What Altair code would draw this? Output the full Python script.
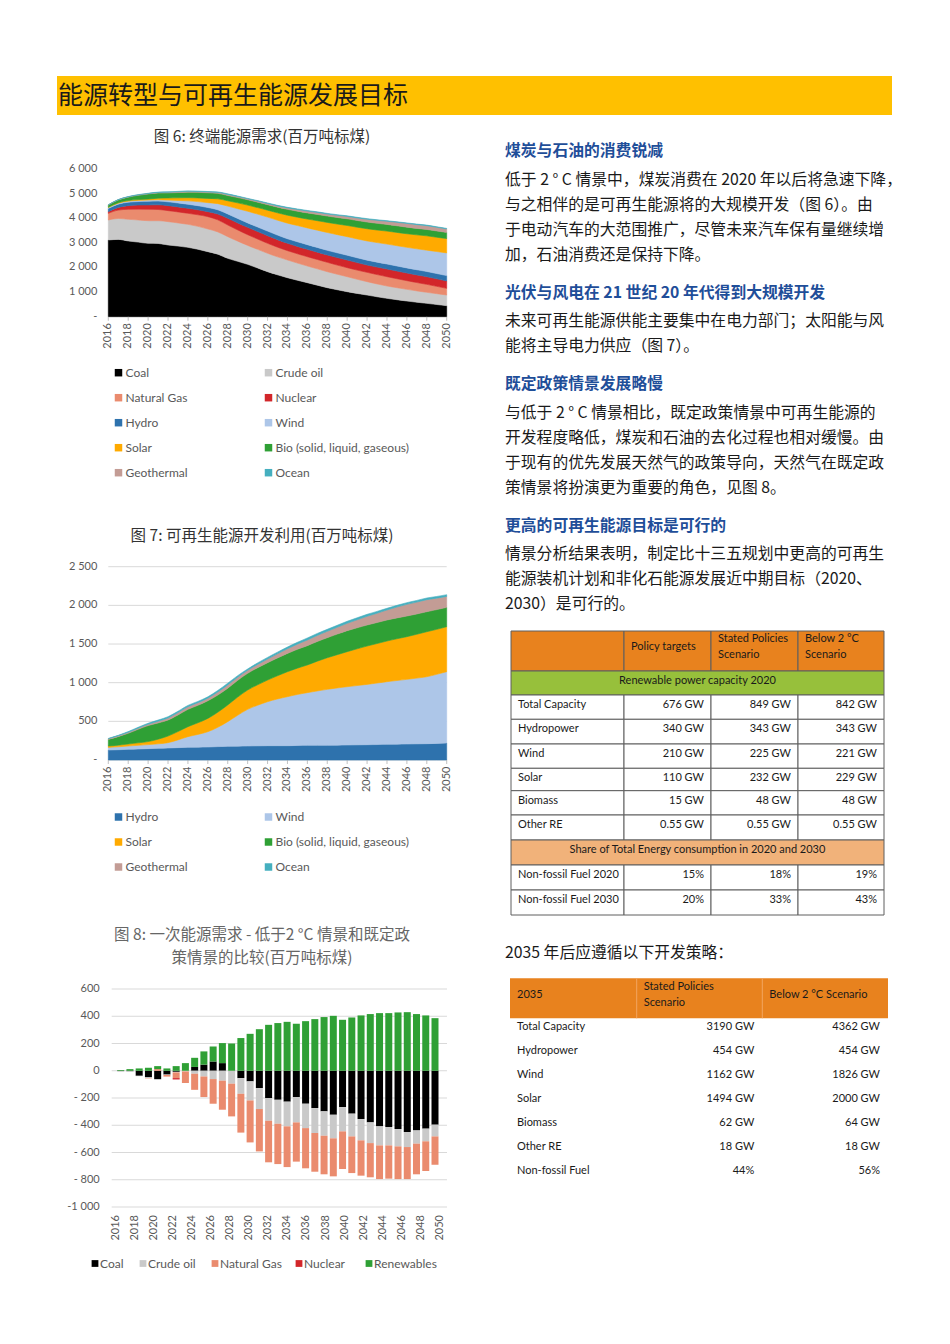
import altair as alt
import pandas as pd

# ------------------------------------------------------------------ data
years = list(range(2016, 2051))

# Figure 6 - final energy demand (Mtce), stacked
coal_f6 = [3117,3140,3076,3030,2981,2975,2913,2870,2818,2740,2642,2540,2371,2250,2127,1980,1829,1700,1585,1480,1382,1280,1179,1095,1016,945,880,810,745,690,637,588,542,495,447]
oil_f6 = [813,850,881,900,919,925,949,940,935,930,922,905,881,820,770,755,746,732,719,698,678,664,650,630,610,576,543,522,502,488,474,460,447,440,434]
gas_f6 = [270,340,406,440,463,455,447,447,447,470,501,490,474,455,434,420,406,392,379,379,379,380,380,372,366,372,379,379,379,365,352,338,325,298,271]
nuclear_f6 = [68,110,149,165,176,190,203,204,204,204,203,235,271,285,298,305,312,305,298,298,298,298,298,305,312,305,298,305,312,312,312,312,312,305,298]
# renewables (used in Figures 6 and 7)
hydro = [129,133,138,142,147,151,155,160,164,166,168,173,177,179,181,183,185,185,185,188,190,190,190,192,194,196,198,200,203,205,207,209,211,215,220]
wind = [34,38,43,48,52,58,69,100,138,165,198,250,319,400,474,525,569,605,634,660,681,703,724,740,754,767,780,795,810,823,836,850,866,893,922]
solar = [17,21,26,32,39,60,86,108,129,150,172,195,216,235,250,265,280,300,323,340,358,385,409,430,453,475,496,511,526,540,552,567,582,582,582]
bio = [86,110,138,175,207,210,207,215,224,226,228,222,216,216,216,220,224,230,237,244,250,255,259,266,272,272,272,272,272,270,267,263,259,255,250]
geothermal = [9,11,13,15,17,22,26,30,34,34,34,39,43,41,39,43,47,53,60,66,73,78,82,88,95,103,112,120,129,140,151,153,155,148,142]
ocean = [4,6,9,11,13,15,17,17,17,17,17,20,22,20,17,20,22,22,22,24,26,26,26,26,26,26,26,24,22,22,22,22,22,22,22]

fig6_series = ["Coal", "Crude oil", "Natural Gas", "Nuclear", "Hydro", "Wind", "Solar",
               "Bio (solid, liquid, gaseous)", "Geothermal", "Ocean"]
fig6_colors = ["#000000", "#C9C9C9", "#EA8B6E", "#D2262A", "#2E72AD", "#ADC6E8", "#FFAA00",
               "#2FA035", "#C39C95", "#45AFBF"]

# Figure 8 - primary energy demand difference (Mtce)
coal_f8 = [-2,-3,-37,-48,-62,-28,-8,0,28,45,68,56,0,-54,-78,-127,-200,-213,-227,-193,-242,-274,-298,-323,-267,-315,-355,-379,-408,-413,-428,-450,-438,-425,-396]
oil_f8 = [-5,-4,-3,-5,-5,-3,-4,-5,-22,-42,-61,-73,-95,-115,-140,-154,-167,-176,-181,-186,-179,-183,-179,-173,-178,-167,-156,-152,-140,-135,-127,-110,-97,-93,-86]
gas_f8 = [0,0,0,-3,12,-12,-42,-85,-118,-151,-181,-213,-240,-285,-308,-311,-305,-296,-299,-288,-295,-284,-283,-279,-276,-269,-259,-251,-247,-244,-240,-235,-225,-218,-208]
nuclear_f8 = [0,0,0,0,0,0,-10,0,0,0,0,0,0,0,0,0,0,0,0,0,0,0,0,0,0,0,0,0,0,0,0,0,0,0,0]
renew_f8 = [5,12,17,22,22,17,34,56,67,97,110,147,200,240,271,305,337,350,359,345,364,379,394,403,374,391,406,416,423,423,428,430,416,406,386]
fig8_series = ["Coal", "Crude oil", "Natural Gas", "Nuclear", "Renewables"]
fig8_colors = ["#000000", "#C9C9C9", "#EA8B6E", "#D2262A", "#2FA035"]

# axis ticks / labels
y6_ticks = [0, 1000, 2000, 3000, 4000, 5000, 6000]
y6_labels = ["-", "1 000", "2 000", "3 000", "4 000", "5 000", "6 000"]
y7_ticks = [0, 500, 1000, 1500, 2000, 2500]
y7_labels = ["-", "500", "1 000", "1 500", "2 000", "2 500"]
y8_ticks = [-1000, -800, -600, -400, -200, 0, 200, 400, 600]
y8_labels = ["-1 000", "- 800", "- 600", "- 400", "- 200", "0", "200", "400", "600"]
x_tick_years = [2016, 2018, 2020, 2022, 2024, 2026, 2028, 2030, 2032, 2034, 2036, 2038, 2040, 2042, 2044, 2046, 2048, 2050]
x_tick_labels = [str(y) for y in x_tick_years]

# texts
page_title = "能源转型与可再生能源发展目标"
fig6_title = "图 6: 终端能源需求(百万吨标煤)"
fig7_title = "图 7: 可再生能源开发利用(百万吨标煤)"
fig8_title = ["图 8: 一次能源需求 - 低于2 °C 情景和既定政", "策情景的比较(百万吨标煤)"]

sections = [
    ("煤炭与石油的消费锐减", [
        "低于 2 ° C 情景中，煤炭消费在 2020 年以后将急速下降，",
        "与之相伴的是可再生能源将的大规模开发（图 6）。由",
        "于电动汽车的大范围推广，尽管未来汽车保有量继续增",
        "加，石油消费还是保持下降。"]),
    ("光伏与风电在 21 世纪 20 年代得到大规模开发", [
        "未来可再生能源供能主要集中在电力部门；太阳能与风",
        "能将主导电力供应（图 7）。"]),
    ("既定政策情景发展略慢", [
        "与低于 2 ° C 情景相比，既定政策情景中可再生能源的",
        "开发程度略低，煤炭和石油的去化过程也相对缓慢。由",
        "于现有的优先发展天然气的政策导向，天然气在既定政",
        "策情景将扮演更为重要的角色，见图 8。"]),
    ("更高的可再生能源目标是可行的", [
        "情景分析结果表明，制定比十三五规划中更高的可再生",
        "能源装机计划和非化石能源发展近中期目标（2020、",
        "2030）是可行的。"]),
]
strategy_line = "2035 年后应遵循以下开发策略："

# table 1
t1_header = ["", "Policy targets", "Stated Policies\nScenario", "Below 2 °C\nScenario"]
t1_section1 = "Renewable power capacity 2020"
t1_rows = ["Total Capacity", "Hydropower", "Wind", "Solar", "Biomass", "Other RE"]
t1_policy = ["676 GW", "340 GW", "210 GW", "110 GW", "15 GW", "0.55 GW"]
t1_stated = ["849 GW", "343 GW", "225 GW", "232 GW", "48 GW", "0.55 GW"]
t1_below = ["842 GW", "343 GW", "221 GW", "229 GW", "48 GW", "0.55 GW"]
t1_section2 = "Share of Total Energy consumption in 2020 and 2030"
t1_rows2 = ["Non-fossil Fuel 2020", "Non-fossil Fuel 2030"]
t1_policy2 = ["15%", "20%"]
t1_stated2 = ["18%", "33%"]
t1_below2 = ["19%", "43%"]

# table 2
t2_header = ["2035", "Stated Policies\nScenario", "Below 2 °C Scenario"]
t2_rows = ["Total Capacity", "Hydropower", "Wind", "Solar", "Biomass", "Other RE", "Non-fossil Fuel"]
t2_stated = ["3190 GW", "454 GW", "1162 GW", "1494 GW", "62 GW", "18 GW", "44%"]
t2_below = ["4362 GW", "454 GW", "1826 GW", "2000 GW", "64 GW", "18 GW", "56%"]

# ------------------------------------------------------------------ styling helpers
CJK = "Noto Sans CJK SC"
LAT = "Lato, 'Noto Sans CJK SC'"
AXC = "#595959"
ORANGE = "#E8821E"
GREEN = "#97C03B"
LORANGE = "#F1B27A"
TXT = "#1a1a1a"


def P(v):
    """page pixel -> chart pixel (8px page margin, chart padding 0)"""
    return v - 8


def one():
    return pd.DataFrame({"k": [0]})


def long_df(names, series):
    rows = []
    for i, (n, vals) in enumerate(zip(names, series)):
        for yr, v in zip(years, vals):
            rows.append({"year": yr, "series": n, "value": v, "idx": i})
    return pd.DataFrame(rows)


def lin(domain, rng):
    return alt.Scale(domain=domain, range=rng, nice=False, zero=False)


layers = []

# ------------------------------------------------------------------ page header
layers.append(alt.Chart(one()).mark_rect(color="#FFC000").encode(
    x=alt.value(P(57)), x2=alt.value(P(892)), y=alt.value(P(76)), y2=alt.value(P(115))))
layers.append(alt.Chart(one()).mark_text(
    text=page_title, font=CJK, fontSize=25, align="left", baseline="middle", color="#1a1a1a"
).encode(x=alt.value(P(58)), y=alt.value(P(96))))


def y_labels(ticks, labels, xs, ys, x0, xoff):
    df = pd.DataFrame({"v": ticks, "lab": labels})
    return alt.Chart(df).mark_text(
        align="right", baseline="middle", font=LAT, fontSize=11, color=AXC, xOffset=xoff
    ).encode(
        x=alt.XDatum(x0, type="quantitative", scale=xs, axis=None),
        y=alt.Y("v:Q", scale=ys, axis=None),
        text="lab:N")


def x_labels(xs, ys, y0, yoff):
    df = pd.DataFrame({"yr": x_tick_years, "lab": x_tick_labels})
    return alt.Chart(df).mark_text(
        angle=270, align="right", baseline="middle", font=LAT, fontSize=11, color=AXC, yOffset=yoff
    ).encode(
        x=alt.X("yr:Q", scale=xs, axis=None),
        y=alt.YDatum(y0, type="quantitative", scale=ys, axis=None),
        text="lab:N")


def x_ticks(xs, ys):
    df = pd.DataFrame({"yr": x_tick_years})
    return alt.Chart(df).mark_tick(orient="vertical", size=4, thickness=1, color="#A6A6A6", yOffset=2).encode(
        x=alt.X("yr:Q", scale=xs, axis=None),
        y=alt.YDatum(0, type="quantitative", scale=ys, axis=None))


def title_text(lines, ypos, color):
    out = []
    for line, yv in zip(lines, ypos):
        out.append(alt.Chart(one()).mark_text(
            text=line, font=CJK, fontSize=15.5, align="center", baseline="middle", color=color
        ).encode(x=alt.value(P(262)), y=alt.value(P(yv))))
    return out


def grid_legend(names, colors, xcols, yrows):
    df = pd.DataFrame({
        "name": names, "col": colors,
        "c": [i % 2 for i in range(len(names))],
        "r": [i // 2 for i in range(len(names))],
    })
    xs = lin([0, 1], [P(v) for v in xcols])
    ys = lin([0, len(yrows) - 1], [P(yrows[0]), P(yrows[-1])])
    sq = alt.Chart(df).mark_square(size=56, opacity=1).encode(
        x=alt.X("c:Q", scale=xs, axis=None), y=alt.Y("r:Q", scale=ys, axis=None),
        color=alt.Color("col:N", scale=None, legend=None))
    tx = alt.Chart(df).mark_text(align="left", baseline="middle", font=LAT, fontSize=12,
                                 color=AXC, dx=7).encode(
        x=alt.X("c:Q", scale=xs, axis=None), y=alt.Y("r:Q", scale=ys, axis=None), text="name:N")
    return [sq, tx]


# ------------------------------------------------------------------ Figure 6
xs6 = lin([2016, 2050], [P(108.3), P(446.7)])
ys6 = lin([0, 6000], [P(316.7), P(169)])
c6 = alt.Scale(domain=fig6_series, range=fig6_colors)
df6 = long_df(fig6_series, [coal_f6, oil_f6, gas_f6, nuclear_f6, hydro, wind, solar, bio, geothermal, ocean])

layers += title_text([fig6_title], [137], "#333333")
layers.append(alt.Chart(df6).mark_area(interpolate="monotone", opacity=1, strokeWidth=0.6).encode(
    x=alt.X("year:Q", scale=xs6, axis=None),
    y=alt.Y("value:Q", stack="zero", scale=ys6, axis=None),
    color=alt.Color("series:N", scale=c6, legend=None),
    stroke=alt.Stroke("series:N", scale=c6, legend=None),
    order=alt.Order("idx:Q")))
layers.append(x_ticks(xs6, ys6))
layers.append(y_labels(y6_ticks, y6_labels, xs6, ys6, 2016, -11))
layers.append(x_labels(xs6, ys6, 0, 6.5))
layers += grid_legend(fig6_series, fig6_colors, [118.5, 268.5], [372.7, 397.7, 422.7, 447.7, 472.7])

# ------------------------------------------------------------------ Figure 7
xs7 = lin([2016, 2050], [P(108.3), P(446.7)])
ys7 = lin([0, 2500], [P(760), P(566.7)])
fig7_series = fig6_series[4:]
fig7_colors = fig6_colors[4:]
c7 = alt.Scale(domain=fig7_series, range=fig7_colors)
df7 = long_df(fig7_series, [hydro, wind, solar, bio, geothermal, ocean])

layers += title_text([fig7_title], [536], "#333333")
layers.append(alt.Chart(pd.DataFrame({"v": y7_ticks})).mark_rule(color="#D9D9D9", strokeWidth=1).encode(
    x=alt.XDatum(2016, type="quantitative", scale=xs7, axis=None),
    x2=alt.X2Datum(2050),
    y=alt.Y("v:Q", scale=ys7, axis=None)))
layers.append(alt.Chart(df7).mark_area(interpolate="monotone", opacity=1, strokeWidth=0.6).encode(
    x=alt.X("year:Q", scale=xs7, axis=None),
    y=alt.Y("value:Q", stack="zero", scale=ys7, axis=None),
    color=alt.Color("series:N", scale=c7, legend=None),
    stroke=alt.Stroke("series:N", scale=c7, legend=None),
    order=alt.Order("idx:Q")))
layers.append(x_ticks(xs7, ys7))
layers.append(y_labels(y7_ticks, y7_labels, xs7, ys7, 2016, -11))
layers.append(x_labels(xs7, ys7, 0, 6.5))
layers += grid_legend(fig7_series, fig7_colors, [118.5, 268.5], [817, 842, 867])

# ------------------------------------------------------------------ Figure 8
xs8 = lin([2016, 2050], [P(115.7), P(440)])
ys8 = lin([-1000, 600], [P(1207), P(989)])
c8 = alt.Scale(domain=fig8_series, range=fig8_colors)
df8 = long_df(fig8_series, [coal_f8, oil_f8, gas_f8, nuclear_f8, renew_f8])

layers += title_text(fig8_title, [935, 958], "#666666")
layers.append(alt.Chart(pd.DataFrame({"v": y8_ticks})).mark_rule(
    color="#D9D9D9", strokeWidth=1, xOffset=-4, x2Offset=7).encode(
    x=alt.XDatum(2016, type="quantitative", scale=xs8, axis=None),
    x2=alt.X2Datum(2050),
    y=alt.Y("v:Q", scale=ys8, axis=None)))
layers.append(alt.Chart(df8).mark_bar(size=7, opacity=1).encode(
    x=alt.X("year:Q", scale=xs8, axis=None),
    y=alt.Y("value:Q", stack="zero", scale=ys8, axis=None),
    color=alt.Color("series:N", scale=c8, legend=None),
    order=alt.Order("idx:Q")))
layers.append(y_labels(y8_ticks, y8_labels, xs8, ys8, 2016, -16))
layers.append(x_labels(xs8, ys8, -1000, 8))

leg8 = pd.DataFrame({"name": fig8_series, "col": fig8_colors, "i": list(range(len(fig8_series)))})
lx8 = lin([0, 1, 2, 3, 4], [P(95), P(143), P(215), P(299), P(369)])
layers.append(alt.Chart(leg8).mark_square(size=46, opacity=1).encode(
    x=alt.X("i:Q", scale=lx8, axis=None), y=alt.value(P(1263.5)),
    color=alt.Color("col:N", scale=None, legend=None)))
layers.append(alt.Chart(leg8).mark_text(align="left", baseline="middle", font=LAT, fontSize=12,
                                        color=AXC, dx=5).encode(
    x=alt.X("i:Q", scale=lx8, axis=None), y=alt.value(P(1263.5)), text="name:N"))

# ------------------------------------------------------------------ right column text
trows = []
ycur = 151.0
for head, lines in sections:
    trows.append({"t": head, "y": P(ycur), "h": 1})
    ycur += 28.5
    for ln in lines:
        trows.append({"t": ln, "y": P(ycur), "h": 0})
        ycur += 25
    ycur += 13
trows.append({"t": strategy_line, "y": P(953), "h": 0})
tdf = pd.DataFrame(trows)
layers.append(alt.Chart(tdf[tdf.h == 1]).mark_text(
    font=CJK, fontSize=15.8, fontWeight="bold", align="left", baseline="middle", color="#1F4E99"
).encode(x=alt.value(P(505)), y=alt.Y("y:Q", scale=None, axis=None), text="t:N"))
layers.append(alt.Chart(tdf[tdf.h == 0]).mark_text(
    font=CJK, fontSize=15.8, align="left", baseline="middle", color="#1a1a1a"
).encode(x=alt.value(P(505)), y=alt.Y("y:Q", scale=None, axis=None), text="t:N"))

# ------------------------------------------------------------------ table 1
t1x = lin([0, 1, 2, 3, 4], [P(511), P(624), P(711), P(798), P(884)])
t1y = lin(list(range(12)), [P(v) for v in [631, 671, 695, 719.3, 744, 768.3, 790.7, 815, 840, 865, 890, 915]])
cells = []
for c in range(4):
    cells.append({"c0": c, "c1": c + 1, "r0": 0, "r1": 1, "fill": ORANGE})
cells.append({"c0": 0, "c1": 4, "r0": 1, "r1": 2, "fill": GREEN})
for r in range(2, 8):
    for c in range(4):
        cells.append({"c0": c, "c1": c + 1, "r0": r, "r1": r + 1, "fill": "#FFFFFF"})
cells.append({"c0": 0, "c1": 4, "r0": 8, "r1": 9, "fill": LORANGE})
for r in range(9, 11):
    for c in range(4):
        cells.append({"c0": c, "c1": c + 1, "r0": r, "r1": r + 1, "fill": "#FFFFFF"})
layers.append(alt.Chart(pd.DataFrame(cells)).mark_rect(stroke="#5E5E5E", strokeWidth=1).encode(
    x=alt.X("c0:Q", scale=t1x, axis=None), x2="c1:Q",
    y=alt.Y("r0:Q", scale=t1y, axis=None), y2="r1:Q",
    fill=alt.Fill("fill:N", scale=None, legend=None)))

# header texts: one-line header centred in cell, two-line header block centred
hdr1 = pd.DataFrame({"c": [1], "t": [t1_header[1]]})
hdr2 = pd.DataFrame({"c": [2, 3], "t": [t1_header[2], t1_header[3]]})
layers.append(alt.Chart(hdr1).mark_text(align="left", baseline="middle", font=LAT, fontSize=11,
                                        color=TXT, xOffset=7, yOffset=16).encode(
    x=alt.X("c:Q", scale=t1x, axis=None), y=alt.YDatum(0, type="quantitative", scale=t1y, axis=None),
    text="t:N"))
layers.append(alt.Chart(hdr2).mark_text(align="left", baseline="middle", font=LAT, fontSize=11,
                                        color=TXT, xOffset=7, yOffset=8, lineBreak="\n", lineHeight=16).encode(
    x=alt.X("c:Q", scale=t1x, axis=None), y=alt.YDatum(0, type="quantitative", scale=t1y, axis=None),
    text="t:N"))

body_rows = list(range(2, 8)) + [9, 10]
all_labels = t1_rows + t1_rows2
all_vals = [t1_policy + t1_policy2, t1_stated + t1_stated2, t1_below + t1_below2]
lab1 = pd.DataFrame({"r": body_rows, "t": all_labels})
right1 = []
for k, r in enumerate(body_rows):
    for j in range(3):
        right1.append({"c": j + 2, "r": r, "t": all_vals[j][k]})
r1df = pd.DataFrame(right1)
layers.append(alt.Chart(lab1).mark_text(align="left", baseline="middle", font=LAT, fontSize=11,
                                        color=TXT, xOffset=7, yOffset=10).encode(
    x=alt.XDatum(0, type="quantitative", scale=t1x, axis=None),
    y=alt.Y("r:Q", scale=t1y, axis=None), text="t:N"))
layers.append(alt.Chart(r1df).mark_text(align="right", baseline="middle", font=LAT, fontSize=11,
                                        color=TXT, xOffset=-7, yOffset=10).encode(
    x=alt.X("c:Q", scale=t1x, axis=None), y=alt.Y("r:Q", scale=t1y, axis=None), text="t:N"))
sec1 = pd.DataFrame({"r": [1, 8], "t": [t1_section1, t1_section2]})
layers.append(alt.Chart(sec1).mark_text(align="center", baseline="middle", font=LAT, fontSize=11,
                                        color=TXT, yOffset=10).encode(
    x=alt.value(P(697.5)), y=alt.Y("r:Q", scale=t1y, axis=None), text="t:N"))

# ------------------------------------------------------------------ table 2
t2x = lin([0, 1, 2, 3], [P(510), P(636.7), P(762.3), P(888)])
t2y = lin([0, 6], [P(1026.7), P(1170.7)])
layers.append(alt.Chart(one()).mark_rect(color=ORANGE).encode(
    x=alt.XDatum(0, type="quantitative", scale=t2x, axis=None), x2=alt.X2Datum(3),
    y=alt.value(P(978.3)), y2=alt.value(P(1018.3))))
layers.append(alt.Chart(pd.DataFrame({"c": [1, 2]})).mark_rule(color="#F2A560", strokeWidth=1).encode(
    x=alt.X("c:Q", scale=t2x, axis=None), y=alt.value(P(978.3)), y2=alt.value(P(1018.3))))
h2a = pd.DataFrame({"c": [0, 2], "t": [t2_header[0], t2_header[2]]})
h2b = pd.DataFrame({"c": [1], "t": [t2_header[1]]})
layers.append(alt.Chart(h2a).mark_text(align="left", baseline="middle", font=LAT, fontSize=11,
                                       color=TXT, xOffset=7).encode(
    x=alt.X("c:Q", scale=t2x, axis=None), y=alt.value(P(995)), text="t:N"))
layers.append(alt.Chart(h2b).mark_text(align="left", baseline="middle", font=LAT, fontSize=11,
                                       color=TXT, xOffset=7, lineBreak="\n", lineHeight=16).encode(
    x=alt.X("c:Q", scale=t2x, axis=None), y=alt.value(P(987)), text="t:N"))
b2 = pd.DataFrame({"r": list(range(len(t2_rows))), "lab": t2_rows, "s": t2_stated, "b": t2_below})
layers.append(alt.Chart(b2).mark_text(align="left", baseline="middle", font=LAT, fontSize=11,
                                      color=TXT, xOffset=7).encode(
    x=alt.XDatum(0, type="quantitative", scale=t2x, axis=None),
    y=alt.Y("r:Q", scale=t2y, axis=None), text="lab:N"))
layers.append(alt.Chart(b2).mark_text(align="right", baseline="middle", font=LAT, fontSize=11,
                                      color=TXT, xOffset=-8).encode(
    x=alt.XDatum(2, type="quantitative", scale=t2x, axis=None),
    y=alt.Y("r:Q", scale=t2y, axis=None), text="s:N"))
layers.append(alt.Chart(b2).mark_text(align="right", baseline="middle", font=LAT, fontSize=11,
                                      color=TXT, xOffset=-8).encode(
    x=alt.XDatum(3, type="quantitative", scale=t2x, axis=None),
    y=alt.Y("r:Q", scale=t2y, axis=None), text="b:N"))

# ------------------------------------------------------------------ compose
chart = alt.layer(*layers).resolve_scale(
    x="independent", y="independent", color="independent", stroke="independent"
).properties(
    width=934, height=1320, padding=0, autosize=alt.AutoSizeParams(type="none"), background="white"
).configure_view(strokeWidth=0)

chart.save("out.html", embed_options={"renderer": "svg", "actions": False})
